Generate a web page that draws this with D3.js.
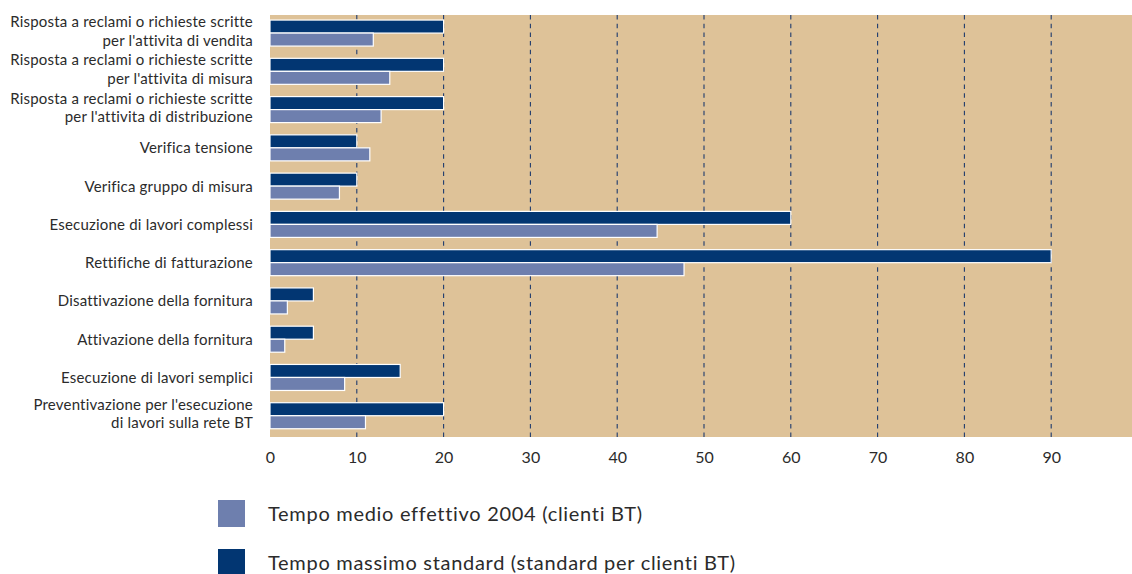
<!DOCTYPE html>
<html>
<head>
<meta charset="utf-8">
<script src="https://cdn.jsdelivr.net/npm/d3@7"></script>
<style>
  html, body { margin: 0; padding: 0; background: #ffffff; }
  svg { display: block; }
  text { font-family: "Lato", "Liberation Sans", sans-serif; fill: #2b2b2b; }
</style>
</head>
<body>
<svg id="chart" width="1132" height="574"></svg>
<script>
// Service categories (multi-line labels split with "\n")
const categories = [
  "Risposta a reclami o richieste scritte\nper l'attivita di vendita",
  "Risposta a reclami o richieste scritte\nper l'attivita di misura",
  "Risposta a reclami o richieste scritte\nper l'attivita di distribuzione",
  "Verifica tensione",
  "Verifica gruppo di misura",
  "Esecuzione di lavori complessi",
  "Rettifiche di fatturazione",
  "Disattivazione della fornitura",
  "Attivazione della fornitura",
  "Esecuzione di lavori semplici",
  "Preventivazione per l'esecuzione\ndi lavori sulla rete BT"
];

// Maximum standard time (days)
const tempoMassimo = [20, 20, 20, 10, 10, 60, 90, 5, 5, 15, 20];
// Actual average time 2004 (days)
const tempoMedio = [11.9, 13.8, 12.8, 11.5, 8.0, 44.6, 47.7, 2.0, 1.7, 8.6, 11.0];

const xTicks = [0, 10, 20, 30, 40, 50, 60, 70, 80, 90];
const gridTicks = [10, 20, 30, 40, 50, 60, 70, 80, 90];

const seriesNames = ["Tempo massimo standard (standard per clienti BT)", "Tempo medio effettivo 2004 (clienti BT)"];
const seriesKeys = ["massimo", "medio"];
const legendOrder = ["medio", "massimo"];

const colors = { massimo: "#023672", medio: "#6e7fae" };

const svg = d3.select("#chart");

const plot = { left: 270, top: 15, bottom: 437 };

const x = d3.scaleLinear().domain([0, 100]).range([plot.left, plot.left + 868]);

const y = d3.scaleBand()
  .domain(categories)
  .range([13.4, 435.4])
  .paddingInner(0.32)
  .paddingOuter(0.174);

const ySub = d3.scaleBand().domain(seriesKeys).range([0, y.bandwidth()]);

// plot background
svg.append("rect")
  .attr("x", plot.left)
  .attr("y", plot.top)
  .attr("width", 1132 - plot.left)
  .attr("height", plot.bottom - plot.top)
  .attr("fill", "#dec298");

// dashed vertical gridlines
svg.append("g")
  .selectAll("line")
  .data(gridTicks)
  .join("line")
  .attr("x1", d => x(d))
  .attr("x2", d => x(d))
  .attr("y1", plot.top)
  .attr("y2", plot.bottom)
  .attr("stroke", "#1e3b6e")
  .attr("stroke-width", 1.1)
  .attr("stroke-dasharray", "4.5,4.2");

// bars
const rows = categories.map((c, i) => ({ cat: c, massimo: tempoMassimo[i], medio: tempoMedio[i] }));

const groups = svg.append("g")
  .selectAll("g")
  .data(rows)
  .join("g")
  .attr("transform", d => `translate(0,${y(d.cat)})`);

groups.selectAll("rect")
  .data(d => seriesKeys.map(k => ({ key: k, value: d[k] })))
  .join("rect")
  .attr("x", x(0))
  .attr("y", d => ySub(d.key))
  .attr("width", d => x(d.value) - x(0))
  .attr("height", ySub.bandwidth())
  .attr("fill", d => colors[d.key])
  .attr("stroke", "#ffffff")
  .attr("stroke-width", 1.2);

// category labels
const labels = svg.append("g")
  .selectAll("text")
  .data(categories)
  .join("text")
  .attr("text-anchor", "end")
  .attr("font-size", 15)
  .attr("letter-spacing", 0.2)
  .attr("transform", d => `translate(253,${y(d) + y.bandwidth() / 2})`);

labels.each(function(d) {
  const lines = d.split("\n");
  const t = d3.select(this);
  lines.forEach((ln, i) => {
    const dy = lines.length === 1 ? 5.5 : (i === 0 ? -6 : 12.5);
    t.append("tspan").attr("x", 0).attr("y", dy).text(ln);
  });
});

// x axis (labels only)
const xAxis = d3.axisBottom(x).tickValues(xTicks).tickSize(0).tickPadding(0);
const gx = svg.append("g")
  .attr("transform", `translate(0,${plot.bottom})`)
  .call(xAxis);
gx.select(".domain").remove();
gx.selectAll("text")
  .attr("font-family", "Lato, 'Liberation Sans', sans-serif")
  .attr("font-size", 16)
  .attr("fill", "#2b2b2b")
  .attr("dy", 0)
  .attr("y", 25.7);

// legend
const legend = svg.append("g")
  .selectAll("g")
  .data(legendOrder)
  .join("g")
  .attr("transform", (d, i) => `translate(218,${500 + i * 49})`);

legend.append("rect")
  .attr("width", 27)
  .attr("height", 27)
  .attr("fill", d => colors[d]);

legend.append("text")
  .attr("x", 50)
  .attr("y", 21)
  .attr("font-size", 20)
  .attr("letter-spacing", 0.7)
  .text(d => seriesNames[seriesKeys.indexOf(d)]);
</script>
</body>
</html>
